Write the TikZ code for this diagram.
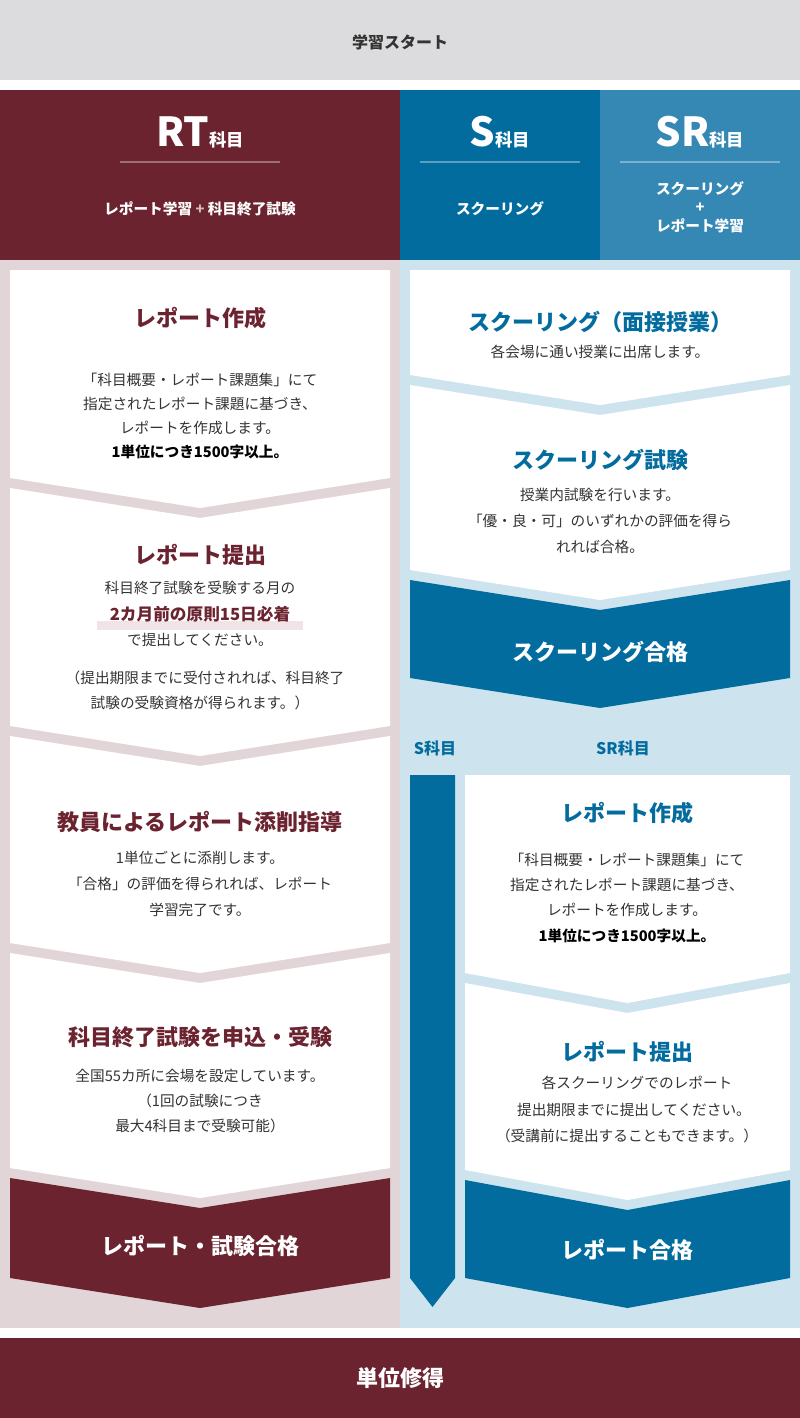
\documentclass[tikz,border=0pt]{standalone}
\usepackage{fontspec}
\setmainfont{Noto Sans CJK JP}
\definecolor{maroon}{HTML}{6B232F}
\definecolor{sblue}{HTML}{036C9F}
\definecolor{srblue}{HTML}{3588B4}
\definecolor{lpink}{HTML}{E2D5D7}
\definecolor{lblue}{HTML}{CDE3EE}
\definecolor{topgray}{HTML}{DCDCDE}
\definecolor{body}{HTML}{333333}
\definecolor{hl}{HTML}{F0E4E6}
\newcommand\cbox[5]{\fill[#5] (#1,#3) -- ({(#1+#2)/2},{#3+30}) -- (#2,#3) -- (#2,#4) -- ({(#1+#2)/2},{#4+30}) -- (#1,#4) -- cycle;}
\newcommand\flbox[5]{\fill[#5] (#1,#3) -- (#2,#3) -- (#2,#4) -- ({(#1+#2)/2},{#4+30}) -- (#1,#4) -- cycle;}
\tikzset{
 ttl/.style={font=\fontsize{16.5pt}{20pt}\selectfont\bfseries, text=#1, inner sep=0},
 bd/.style={font=\fontsize{11pt}{14pt}\selectfont, text=body, inner sep=0},
 hd/.style={font=\fontsize{11pt}{14pt}\selectfont\bfseries, text=white, inner sep=0, align=center},
 big/.style={font=\fontsize{16.5pt}{20pt}\selectfont\bfseries, text=white, inner sep=0},
}
\begin{document}
\begin{tikzpicture}[x=0.75pt,y=-0.75pt]
\useasboundingbox (0,0) rectangle (800,1418);
% top
\fill[topgray] (0,0) rectangle (800,80);
\node[font=\fontsize{12pt}{14pt}\selectfont\bfseries, text=body] (start) at (400,42) {学習スタート};
% header
\fill[maroon] (0,90) rectangle (400,260);
\fill[sblue] (400,90) rectangle (600,260);
\fill[srblue] (600,90) rectangle (800,260);
\draw[white,opacity=0.35,line width=1.5] (120,162)--(280,162) (420,162)--(580,162) (620,162)--(780,162);
\node[text=white,inner sep=0] (rt) at (200,132) {\fontsize{30pt}{32pt}\selectfont\bfseries RT\fontsize{13pt}{14pt}\selectfont 科目};
\node[text=white,inner sep=0] (s) at (500,132) {\fontsize{30pt}{32pt}\selectfont\bfseries S\fontsize{13pt}{14pt}\selectfont 科目};
\node[text=white,inner sep=0] (sr) at (700,132) {\fontsize{30pt}{32pt}\selectfont\bfseries SR\fontsize{13pt}{14pt}\selectfont 科目};
\node[hd] (rtsub) at (200,209) {レポート学習 {\color{white!70!maroon}+} 科目終了試験};
\node[hd] (ssub) at (500,209) {スクーリング};
\node[hd, font=\fontsize{11pt}{16pt}\selectfont\bfseries] (srsub) at (700,207) {スクーリング\\[-2pt]+\\[-2pt]レポート学習};
% backgrounds
\fill[lpink] (0,260) rectangle (400,1328);
\fill[lblue] (400,260) rectangle (800,1328);
% left boxes
\flbox{10}{390}{270}{478}{white}
\cbox{10}{390}{488}{726}{white}
\cbox{10}{390}{736}{943}{white}
\cbox{10}{390}{953}{1168}{white}
\cbox{10}{390}{1178}{1278}{maroon}
% right boxes
\flbox{410}{790}{270}{375}{white}
\cbox{410}{790}{385}{570}{white}
\cbox{410}{790}{580}{678}{sblue}
\fill[sblue] (410,775) -- (455,775) -- (455,1278) -- (432.5,1307) -- (410,1278) -- cycle;
\flbox{465}{790}{775}{973}{white}
\cbox{465}{790}{983}{1170}{white}
\cbox{465}{790}{1180}{1278}{sblue}
% bottom
\fill[maroon] (0,1338) rectangle (800,1418);
\node[big] (end) at (400,1378) {単位修得};
% left texts
\node[ttl=maroon] (l1t) at (200,318) {レポート作成};
\node[bd] at (200,380) {「科目概要・レポート課題集」にて};
\node[bd] at (200,404) {指定されたレポート課題に基づき、};
\node[bd] at (200,428) {レポートを作成します。};
\node[bd,text=black,font=\fontsize{11pt}{14pt}\selectfont\bfseries] at (200,452) {1単位につき1500字以上。};
\node[ttl=maroon] (l2t) at (200,555) {レポート提出};
\node[bd] at (200,588) {科目終了試験を受験する月の};
\fill[hl] (97,621) rectangle (303,630);
\node[bd,text=maroon,font=\fontsize{12.5pt}{14pt}\selectfont\bfseries] at (200,614) {2カ月前の原則15日必着};
\node[bd] at (200,640) {で提出してください。};
\node[bd] at (205,678) {（提出期限までに受付されれば、科目終了};
\node[bd] at (200,703) {試験の受験資格が得られます。）};
\node[ttl=maroon] (l3t) at (200,822) {教員によるレポート添削指導};
\node[bd] at (200,858) {1単位ごとに添削します。};
\node[bd] at (200,884) {「合格」の評価を得られれば、レポート};
\node[bd] at (200,910) {学習完了です。};
\node[ttl=maroon] (l4t) at (200,1037) {科目終了試験を申込・受験};
\node[bd] at (200,1076) {全国55カ所に会場を設定しています。};
\node[bd] at (200,1101) {（1回の試験につき};
\node[bd] at (200,1126) {最大4科目まで受験可能）};
\node[big] (l5) at (200,1246) {レポート・試験合格};
% right texts
\node[ttl=sblue] (r1t) at (600,322) {スクーリング（面接授業）};
\node[bd] at (600,352) {各会場に通い授業に出席します。};
\node[ttl=sblue] (r2t) at (600,460) {スクーリング試験};
\node[bd] at (600,495) {授業内試験を行います。};
\node[bd] at (600,521) {「優・良・可」のいずれかの評価を得ら};
\node[bd] at (600,547) {れれば合格。};
\node[big] (r3) at (600,652) {スクーリング合格};
\node[ttl=sblue,font=\fontsize{12pt}{14pt}\selectfont\bfseries] (slab) at (435,748) {S科目};
\node[ttl=sblue,font=\fontsize{12pt}{14pt}\selectfont\bfseries] (srlab) at (623,748) {SR科目};
\node[ttl=sblue] (r4t) at (627,813) {レポート作成};
\node[bd] at (627,860) {「科目概要・レポート課題集」にて};
\node[bd] at (627,885) {指定されたレポート課題に基づき、};
\node[bd] at (627,910) {レポートを作成します。};
\node[bd,text=black,font=\fontsize{11pt}{14pt}\selectfont\bfseries] at (627,936) {1単位につき1500字以上。};
\node[ttl=sblue] (r5t) at (627,1052) {レポート提出};
\node[bd] at (637,1083) {各スクーリングでのレポート};
\node[bd] at (634,1110) {提出期限までに提出してください。};
\node[bd] at (627,1136) {（受講前に提出することもできます。）};
\node[big] (r6) at (627,1250) {レポート合格};
\end{tikzpicture}
\end{document}
